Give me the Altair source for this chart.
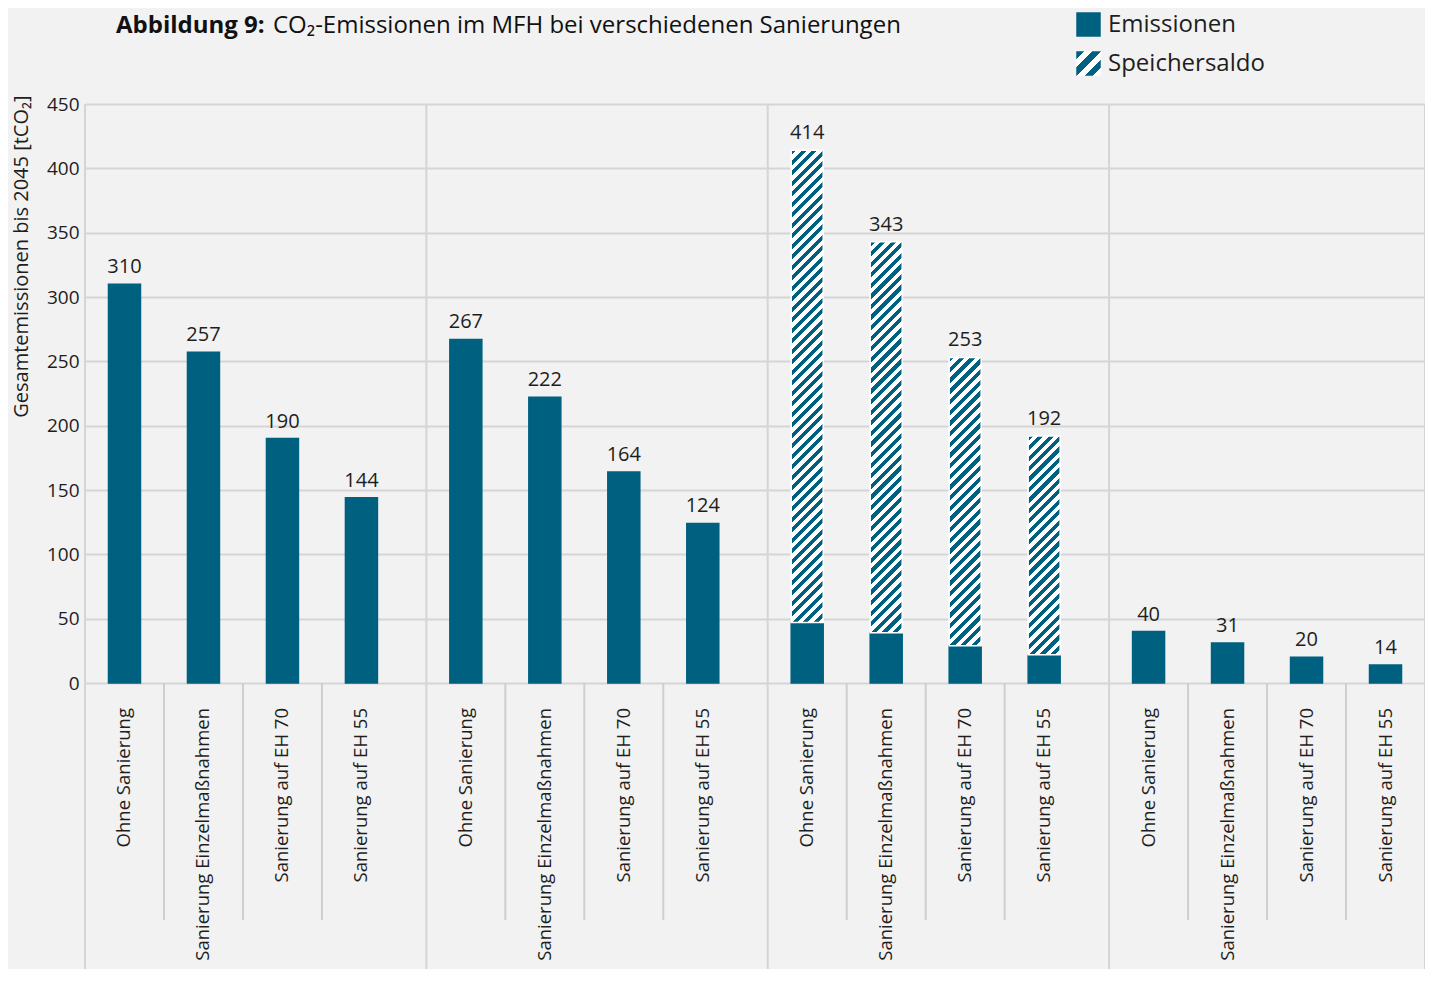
import altair as alt

# ---------------- data ----------------
groups = ["Variante 1", "Variante 2", "Variante 3", "Variante 4"]
scenarios = [
    "Ohne Sanierung",
    "Sanierung Einzelmaßnahmen",
    "Sanierung auf EH 70",
    "Sanierung auf EH 55",
]
# Emissionen (solid part) per group, in scenario order
emissionen_1 = [310, 257, 190, 144]
emissionen_2 = [267, 222, 164, 124]
emissionen_3 = [47, 39, 29, 22]
emissionen_4 = [40, 31, 20, 14]
# totals incl. Speichersaldo (labels above the bars)
gesamt_1 = [310, 257, 190, 144]
gesamt_2 = [267, 222, 164, 124]
gesamt_3 = [414, 343, 253, 192]
gesamt_4 = [40, 31, 20, 14]
series_names = ["Emissionen", "Speichersaldo"]

emissionen = [emissionen_1, emissionen_2, emissionen_3, emissionen_4]
gesamt = [gesamt_1, gesamt_2, gesamt_3, gesamt_4]

# ---------------- styling / layout ----------------
TEAL = "#00607f"
WHITE = "#ffffff"
GRID = "#d5d5d5"
TXT = "#1e1e1e"
BG = "#f2f2f2"
W, H = 1340, 579
YMAX = 450
PI_G = 0.0745            # gap between groups
PI_O = 1 - 32 / 79       # bar width inside its slot
group_bw = W / (len(groups) - PI_G) * (1 - PI_G)
bar_w = group_bw / len(scenarios) * (1 - PI_O)


def hatch(w, h, period, c1, c2):
    """linear gradient (bounding-box units) giving 45deg stripes."""
    n = max(1, round((w + h) / period))
    k = (w + h) / (w * w + h * h)
    stops = []
    for i in range(n):
        a, m, b = i / n, (i + 0.5) / n, (i + 1) / n
        stops += [
            {"offset": a, "color": c1},
            {"offset": m, "color": c1},
            {"offset": m, "color": c2},
            {"offset": b, "color": c2},
        ]
    return {"gradient": "linear", "x1": 0, "y1": 0, "x2": k * w, "y2": k * h, "stops": stops}


def js_literal(g):
    st = ",".join("{offset:%.4f,color:'%s'}" % (s["offset"], s["color"]) for s in g["stops"])
    return "{gradient:'linear',x1:%g,y1:%g,x2:%g,y2:%g,stops:[%s]}" % (
        g["x1"], g["y1"], g["x2"], g["y2"], st)


bar_rows, hatch_rows = [], []
for gi, g in enumerate(groups):
    for si, s in enumerate(scenarios):
        e, t = emissionen[gi][si], gesamt[gi][si]
        bar_rows.append({"group": g, "scenario": s, "emission": e, "gesamt": t,
                         "series": series_names[0], "paint": TEAL})
        if t - e > 0:
            hatch_rows.append({"group": g, "scenario": s, "emission": e, "gesamt": t,
                               "series": series_names[1],
                               "paint": hatch(bar_w, (t - e) * H / YMAX, 10.5, TEAL, WHITE)})

bars_data = alt.Data(values=bar_rows)
hatch_data = alt.Data(values=hatch_rows)
group_data = alt.Data(values=[{"group": g} for g in groups])

xscale = alt.Scale(domain=groups, paddingInner=PI_G, paddingOuter=0)
X = alt.X("group:N", scale=xscale, axis=None)
XO = alt.XOffset("scenario:N", scale=alt.Scale(domain=scenarios, paddingInner=PI_O,
                                               paddingOuter=PI_O / 2))
YAXIS = alt.Axis(values=list(range(0, 451, 50)), grid=True, gridColor=GRID, gridWidth=2,
                 domain=False, ticks=False, labelFontSize=19, labelColor=TXT, labelPadding=6,
                 titleFontSize=20, titleFontWeight="normal", titleColor=TXT,
                 titleAnchor="end", titlePadding=15, titleY=-9)
YTITLE = "Gesamtemissionen bis 2045 [tCO₂]"


def yenc(field):
    return alt.Y(field, scale=alt.Scale(domain=[0, YMAX], nice=False), axis=YAXIS, title=YTITLE)


legend_grad = hatch(24.5, 24.5, 16, TEAL, WHITE)
legend_fill = "datum.value === '%s' ? %s : '%s'" % (series_names[1], js_literal(legend_grad), TEAL)
LEGEND = alt.Legend(
    title=None, orient="none", legendX=991, legendY=-92, padding=0,
    symbolType="square", symbolSize=600, symbolStrokeWidth=0,
    symbolFillColor=alt.ExprRef(expr=legend_fill), symbolOpacity=1,
    labelFontSize=24, labelColor=TXT, labelOffset=7, rowPadding=14,
)
STROKE = alt.Stroke("series:N", scale=alt.Scale(domain=series_names, range=[TEAL, WHITE]),
                    legend=LEGEND)
FILL = alt.Fill("paint:N", scale=None, legend=None)

# group separators (plot area + axis area)
group_lines = alt.Chart(group_data).mark_rule(color=GRID, strokeWidth=2).encode(
    x=alt.X("group:N", scale=xscale, axis=None, bandPosition=0),
    y=alt.value(0), y2=alt.value(H + 330))
right_line = alt.Chart(group_data).mark_rule(color=GRID, strokeWidth=2).encode(
    x=alt.X("group:N", scale=xscale, axis=None, bandPosition=1),
    y=alt.value(0), y2=alt.value(H + 330)).transform_filter(alt.datum.group == groups[-1])
sub_lines = [
    alt.Chart(group_data).mark_rule(color="#cfcfcf", strokeWidth=2).encode(
        x=alt.X("group:N", scale=xscale, axis=None, bandPosition=k / 4),
        y=alt.value(H), y2=alt.value(H + 237))
    for k in (1, 2, 3)
]

bars = alt.Chart(bars_data).mark_bar(strokeWidth=1.5).encode(
    x=X, xOffset=XO, y=yenc("emission:Q"), fill=FILL, stroke=STROKE)

hatched = alt.Chart(hatch_data).mark_bar(strokeWidth=1.5).encode(
    x=X, xOffset=XO, y=yenc("emission:Q"), y2="gesamt:Q", fill=FILL, stroke=STROKE)

values = alt.Chart(bars_data).mark_text(baseline="alphabetic", dy=-11, fontSize=20, color=TXT).encode(
    x=X, xOffset=XO, y=yenc("gesamt:Q"), text="gesamt:Q")

cat_labels = alt.Chart(bars_data).mark_text(angle=270, align="right", baseline="middle",
                                            fontSize=18.5, color=TXT).encode(
    x=X, xOffset=XO, y=alt.value(H + 25), text="scenario:N")

title_bold = alt.Chart(alt.Data(values=[{"t": "Abbildung 9:"}])).mark_text(
    align="left", baseline="alphabetic", fontSize=24, fontWeight="bold", color="#111").encode(
    x=alt.value(31), y=alt.value(-71), text="t:N")
title_rest = alt.Chart(alt.Data(values=[{"t": "CO₂-Emissionen im MFH bei verschiedenen Sanierungen"}])).mark_text(
    align="left", baseline="alphabetic", fontSize=24, color="#111").encode(
    x=alt.value(188), y=alt.value(-71), text="t:N")

chart = alt.layer(
    group_lines, right_line, *sub_lines, bars, hatched, values, cat_labels, title_bold, title_rest
).properties(
    width=W, height=H,
    padding={"left": 77, "top": 96, "right": 0, "bottom": 286},
    autosize=alt.AutoSizeParams(type="none"),
).configure(
    background=BG, font="Open Sans",
).configure_view(stroke=None)

chart.save("out.html", embed_options={"renderer": "svg", "actions": False})
